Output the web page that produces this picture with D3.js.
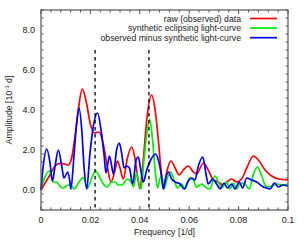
<!DOCTYPE html>
<html>
<head>
<meta charset="utf-8">
<script src="https://cdn.jsdelivr.net/npm/d3@7"></script>
<style>
  body { margin: 0; background: #fff; }
  svg text { font-family: "Liberation Sans", Arial, sans-serif; fill: #222; }
</style>
</head>
<body>
<div class="chart-container"></div>
<script>
// Values
const freqRaw = [0, 0.0036, 0.0057, 0.0077, 0.0097, 0.011, 0.0124, 0.0138, 0.0151, 0.0167, 0.0185, 0.0198, 0.0216, 0.0235, 0.0252, 0.0268, 0.0283, 0.030, 0.0309, 0.032, 0.0333, 0.035, 0.0367, 0.038, 0.0394, 0.040, 0.0414, 0.0428, 0.0448, 0.0462, 0.0475, 0.0486, 0.0495, 0.0511, 0.0526, 0.0543, 0.0559, 0.0576, 0.0596, 0.0617, 0.063, 0.0657, 0.0677, 0.0698, 0.0718, 0.0738, 0.0758, 0.0772, 0.0792, 0.0812, 0.0833, 0.086, 0.088, 0.0907, 0.0934, 0.0961, 0.1];
const ampRaw = [0, 0.75, 1.2, 1.33, 1.3, 1.25, 1.6, 2.7, 4.0, 5.05, 4.3, 3.4, 2.85, 2.9, 2.3, 1.2, 0.4, 1.0, 1.45, 1.1, 0.55, 1.6, 2.15, 1.6, 0.4, 0.08, 1.5, 3.5, 4.75, 4.0, 2.5, 1.0, 0.1, 1.0, 1.45, 1.1, 0.75, 1.0, 1.2, 0.9, 0.8, 1.35, 1.0, 0.5, 0.4, 0.25, 0.45, 0.55, 0.4, 0.55, 1.1, 1.7, 1.5, 1.0, 0.7, 0.55, 0.5];

const freqSyn = [0, 0.0034, 0.005, 0.0063, 0.0077, 0.009, 0.011, 0.0124, 0.0134, 0.0151, 0.0171, 0.0188, 0.0205, 0.0221, 0.0239, 0.0252, 0.0268, 0.0286, 0.030, 0.0313, 0.0327, 0.035, 0.0367, 0.0374, 0.0387, 0.0397, 0.0405, 0.0417, 0.0428, 0.044, 0.0451, 0.0462, 0.0472, 0.0482, 0.0489, 0.0498, 0.0509, 0.0525, 0.0539, 0.0552, 0.057, 0.0583, 0.0601, 0.0617, 0.063, 0.065, 0.0671, 0.0684, 0.0704, 0.0718, 0.0731, 0.0751, 0.0765, 0.0779, 0.0792, 0.0808, 0.0826, 0.0843, 0.086, 0.0876, 0.0894, 0.091, 0.0927, 0.0954, 0.0981, 0.1];
const ampSyn = [0.1, 0.95, 0.4, 0.4, 0.2, 0.1, 0.25, 0.2, 0.05, 0.35, 0.62, 0.1, 0.6, 0.95, 0.6, 0.3, 0.15, 0.4, 0.4, 0.25, 0.25, 0.55, 0.35, 0.15, 0.85, 0.3, 0.05, 1.5, 2.8, 3.55, 2.6, 1.0, 0.1, 0.6, 0.7, 0.05, 0.5, 0.9, 0.5, 0.1, 0.3, 0.05, 0.6, 0.5, 0.15, 0.3, 0.1, 0.05, 0.7, 0.4, 0.1, 0.4, 0.05, 0.35, 0.05, 0.35, 0.3, 0.05, 0.8, 1.15, 0.7, 0.2, 0.15, 0.3, 0.25, 0.3];

const freqOmc = [0, 0.0009, 0.0023, 0.0036, 0.0046, 0.0057, 0.007, 0.0084, 0.0093, 0.0108, 0.0117, 0.0121, 0.0134, 0.0144, 0.0154, 0.0165, 0.0174, 0.0185, 0.0198, 0.0212, 0.0229, 0.0243, 0.0255, 0.0263, 0.0277, 0.0286, 0.0293, 0.0306, 0.0317, 0.0327, 0.0336, 0.0347, 0.0358, 0.0371, 0.0385, 0.0394, 0.0404, 0.0414, 0.0428, 0.0444, 0.0464, 0.0475, 0.0489, 0.0495, 0.0505, 0.0516, 0.0529, 0.0543, 0.0563, 0.058, 0.0596, 0.061, 0.0623, 0.0637, 0.0655, 0.0668, 0.0677, 0.0695, 0.0711, 0.0725, 0.0741, 0.0755, 0.0772, 0.0785, 0.0803, 0.0816, 0.0833, 0.0853, 0.0873, 0.09, 0.0914, 0.0927, 0.0945, 0.0961, 0.0978, 0.1];
const ampOmc = [0, 1.2, 2.05, 1.4, 0.45, 1.2, 2.0, 1.2, 0.6, 0.9, 0.4, 0.05, 1.8, 3.3, 4.1, 3.0, 1.2, 0.05, 1.8, 3.2, 3.85, 3.0, 1.8, 0.85, 1.7, 1.2, 0.8, 2.0, 2.35, 1.8, 1.1, 1.2, 1.1, 0.3, 1.5, 1.65, 1.0, 0.4, 1.0, 1.5, 1.8, 1.5, 0.6, 0.05, 0.6, 0.9, 0.55, 0.4, 0.3, 0.05, 0.45, 0.6, 0.5, 1.2, 1.65, 0.8, 0.3, 0.55, 0.3, 0.05, 0.35, 0.1, 0.3, 0.05, 0.4, 0.1, 0.6, 0.5, 0.4, 0.15, 0.1, 0.05, 0.35, 0.15, 0.25, 0.2];

const seriesNames = ["raw (observed) data", "synthetic eclipsing light-curve", "observed minus synthetic light-curve"];
const seriesColors = ["#ff0000", "#00ee00", "#0000ff"];
const markerFreqs = [0.0219, 0.0437];
const xTicks = [0, 0.02, 0.04, 0.06, 0.08, 0.1];
const yTicks = [0, 2, 4, 6, 8];

const W = 305, H = 240;
const margin = { top: 10, right: 17, bottom: 30, left: 41 };
const width = W - margin.left - margin.right;
const height = H - margin.top - margin.bottom;

const svg = d3.select('.chart-container').append('svg')
    .attr('width', W).attr('height', H);
const g = svg.append('g').attr('transform', `translate(${margin.left},${margin.top})`);

const x = d3.scaleLinear().domain([0, 0.1]).range([0, width]);
const y = d3.scaleLinear().domain([-1, 9]).range([height, 0]);

// Series lines
const series = [
    freqRaw.map((f, i) => [f, ampRaw[i]]),
    freqSyn.map((f, i) => [f, ampSyn[i]]),
    freqOmc.map((f, i) => [f, ampOmc[i]])
];
const line = d3.line().x(d => x(d[0])).y(d => y(d[1])).curve(d3.curveMonotoneX);
series.forEach((s, i) => {
    g.append('path').datum(s)
        .attr('d', line)
        .attr('fill', 'none')
        .attr('stroke', seriesColors[i])
        .attr('stroke-width', 1.7);
});

// Dashed marker lines
g.selectAll('.marker').data(markerFreqs).enter().append('line')
    .attr('x1', d => x(d)).attr('x2', d => x(d))
    .attr('y1', y(7)).attr('y2', height)
    .attr('stroke', '#000').attr('stroke-width', 1.3)
    .attr('stroke-dasharray', '3.5,3.5');

// Frame and ticks (mirrored, inward)
const frameColor = '#555';
g.append('rect').attr('width', width).attr('height', height)
    .attr('fill', 'none').attr('stroke', frameColor).attr('stroke-width', 1.2);

const xMinor = d3.range(0, 0.1001, 0.004);
const yMinor = d3.range(-1, 9.001, 0.4);
const tickG = g.append('g').attr('stroke', frameColor).attr('stroke-width', 1);
xMinor.forEach(v => {
    const major = xTicks.some(t => Math.abs(t - v) < 1e-6);
    const len = major ? 4 : 2.5;
    tickG.append('line').attr('x1', x(v)).attr('x2', x(v)).attr('y1', height).attr('y2', height - len);
    tickG.append('line').attr('x1', x(v)).attr('x2', x(v)).attr('y1', 0).attr('y2', len);
});
yMinor.forEach(v => {
    const major = yTicks.some(t => Math.abs(t - v) < 1e-6);
    const len = major ? 4 : 2.5;
    tickG.append('line').attr('y1', y(v)).attr('y2', y(v)).attr('x1', 0).attr('x2', len);
    tickG.append('line').attr('y1', y(v)).attr('y2', y(v)).attr('x1', width).attr('x2', width - len);
});

// Tick labels
g.selectAll('.xl').data(xTicks).enter().append('text')
    .attr('x', d => x(d)).attr('y', height + 13)
    .attr('text-anchor', 'middle').attr('font-size', 9)
    .text(d => d === 0 ? '0' : d3.format('.2~f')(d));
g.selectAll('.yl').data(yTicks).enter().append('text')
    .attr('x', -6).attr('y', d => y(d) + 3)
    .attr('text-anchor', 'end').attr('font-size', 9)
    .text(d => d.toFixed(1));

// Axis titles
svg.append('text')
    .attr('x', margin.left + width / 2).attr('y', H - 5)
    .attr('text-anchor', 'middle').attr('font-size', 8.8)
    .text('Frequency [1/d]');
const yl = svg.append('text')
    .attr('transform', `translate(12,${margin.top + height / 2}) rotate(-90)`)
    .attr('text-anchor', 'middle').attr('font-size', 8.8);
yl.append('tspan').text('Amplitude [10');
yl.append('tspan').attr('font-size', 6).attr('dy', -3).text('-3');
yl.append('tspan').attr('dy', 3).text(' d]');

// Legend
const legend = g.append('g');
seriesNames.forEach((name, i) => {
    const ly = 8.5 + i * 9.6;
    legend.append('text')
        .attr('x', 200).attr('y', ly + 3)
        .attr('text-anchor', 'end').attr('font-size', 8.7)
        .text(name);
    legend.append('line')
        .attr('x1', 209).attr('x2', 236).attr('y1', ly).attr('y2', ly)
        .attr('stroke', seriesColors[i]).attr('stroke-width', 1.7);
});
</script>
</body>
</html>
